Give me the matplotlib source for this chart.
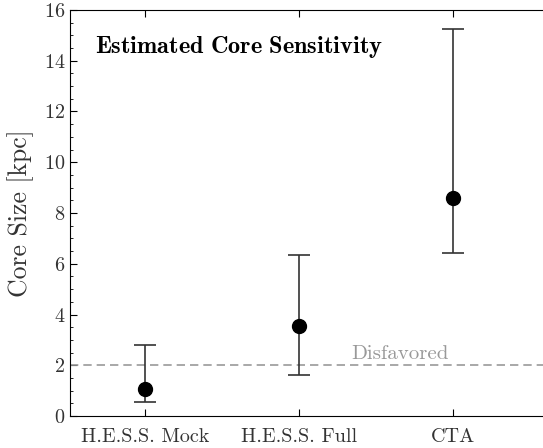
import numpy as np
import matplotlib
matplotlib.use("Agg")
import matplotlib.pyplot as plt
from matplotlib.ticker import MultipleLocator

plt.rcParams['font.family'] = 'serif'
plt.rcParams['font.serif'] = ['cmr10']
plt.rcParams['mathtext.fontset'] = 'cm'
plt.rcParams['axes.formatter.use_mathtext'] = True

labels = ["H.E.S.S. Mock", "H.E.S.S. Full", "CTA"]
core = np.array([1.05, 3.55, 8.58])
low = np.array([0.55, 1.6, 6.42])
high = np.array([2.8, 6.35, 15.25])
disfavored = 2.0

x = np.arange(len(labels))
err = np.vstack([core - low, high - core])

fig = plt.figure(figsize=(5.43, 4.48), dpi=100)
# right edge sits just past the canvas, like the cropped original
ax = fig.add_axes([70/543, 32/448, 480/543, 406/448])

ax.axhline(disfavored, color='#999999', ls='--', lw=1.2, dashes=(5, 3))
ax.text(1.34, disfavored + 0.08, "Disfavored", color='#999999', fontsize=15, va='bottom')

ax.errorbar(x, core, yerr=err, fmt='o', color='black', ecolor='#333333',
            elinewidth=1.2, capsize=8, capthick=1.2, markersize=10)

ax.set_xlim(-0.49, 2.63)
ax.set_ylim(0, 16)
ax.set_xticks(x)
ax.set_xticklabels(labels, fontsize=14.5)
ax.yaxis.set_major_locator(MultipleLocator(2))
ax.yaxis.set_minor_locator(MultipleLocator(0.5))
ax.tick_params(axis='both', which='both', direction='in', top=True, right=False, labelsize=14.5)
ax.tick_params(axis='x', which='major', length=5, pad=9)
ax.tick_params(axis='y', which='major', length=5, labelcolor='#333333')
ax.tick_params(axis='y', which='minor', length=2.5)
ax.tick_params(axis='x', labelcolor='#333333')
ax.set_ylabel("Core Size [kpc]", fontsize=18.5, color='#333333')
ax.yaxis.set_label_coords(-36/480, 0.5)

ax.text(0.053, 0.91, r"$\mathbf{Estimated\ Core\ Sensitivity}$", transform=ax.transAxes,
        fontsize=17.5, va='center', ha='left')

fig.savefig("out.png", dpi=100)
